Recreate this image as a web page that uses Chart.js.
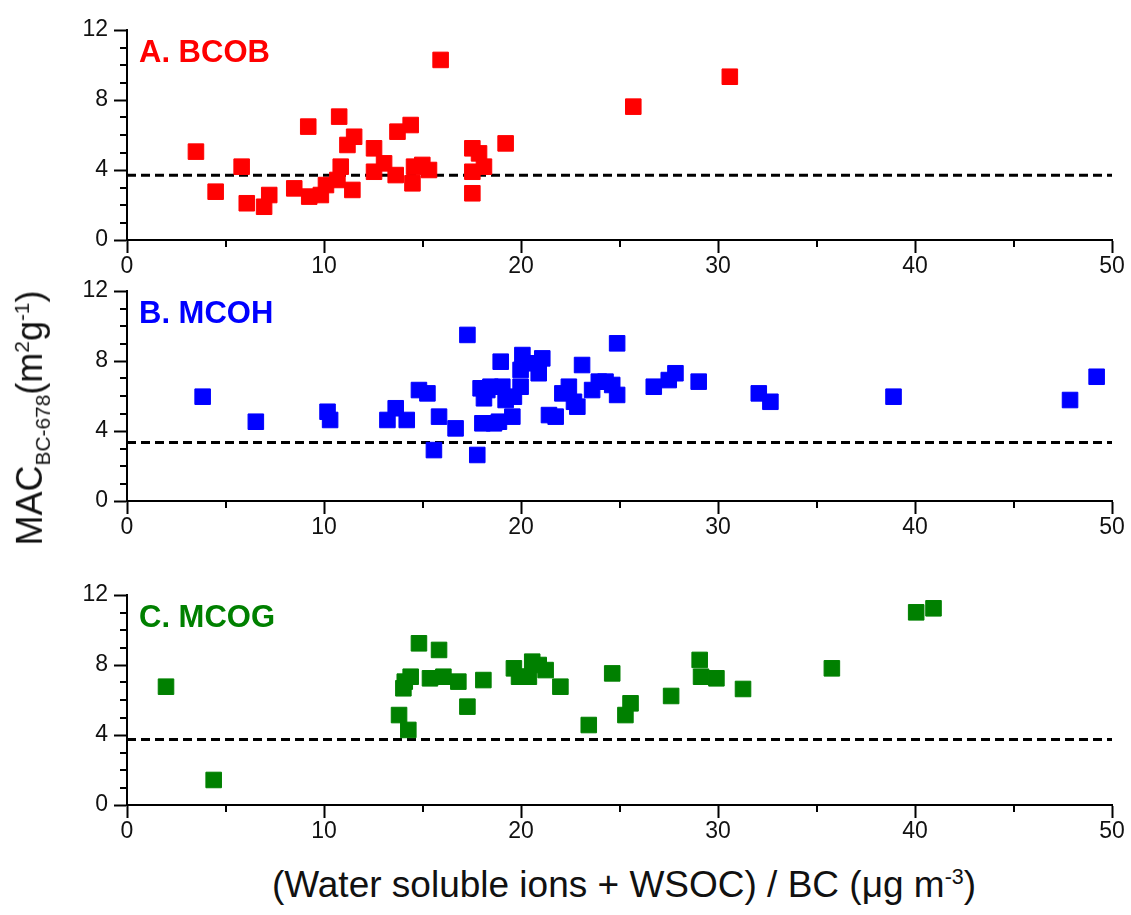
<!DOCTYPE html>
<html lang="en">
<head>
  <meta charset="UTF-8">
  <title>MAC vs soluble fraction</title>
  <script src="https://cdn.jsdelivr.net/npm/chart.js"></script>
  <style>
    body {
      margin: 0;
      background: #fff;
      font-family: Arial, "Liberation Sans", sans-serif;
    }
    #page {
      position: relative;
      width: 1131px;
      height: 915px;
    }
    .panel {
      position: absolute;
      left: 0;
      width: 1131px;
      height: 280px;
    }
    #ytitle {
      position: absolute;
      left: 32px;
      top: 418px;
      transform: translate(-50%, -50%) rotate(-90deg);
      white-space: nowrap;
      font-size: 36px;
      color: #111;
    }
    #xtitle {
      position: absolute;
      left: 624px;
      top: 885px;
      transform: translate(-50%, -50%);
      white-space: nowrap;
      font-size: 37px;
      color: #111;
    }
    sub, sup { font-size: 58%; }
  </style>
</head>
<body>
  <div id="page">
    <div class="panel" style="top:0px"><canvas id="chartA"></canvas></div>
    <div class="panel" style="top:261px"><canvas id="chartB"></canvas></div>
    <div class="panel" style="top:565px"><canvas id="chartC"></canvas></div>
    <div id="ytitle">MAC<sub>BC-678</sub>(m<sup>2</sup>g<sup>-1</sup>)</div>
    <div id="xtitle">(Water soluble ions + WSOC) / BC (&mu;g m<sup>-3</sup>)</div>
  </div>

  <script>
    // A. BCOB
    const bcobX = [3.5, 4.5, 5.82, 6.08, 6.96, 7.22, 8.49, 9.2, 9.25, 9.84, 10.1, 10.77, 10.85, 10.68, 11.19, 11.53, 11.44, 12.54,
                   12.54, 13.05, 13.73, 13.64, 14.4, 14.49, 14.57, 14.99, 15.33, 15.92, 17.53, 17.87, 18.12, 17.53, 17.53, 19.22, 25.7, 30.6];
    const bcobY = [5.05, 2.76, 4.19, 2.1, 1.9, 2.57, 2.95, 6.48, 2.48, 2.57, 3.14, 7.05, 4.19, 3.43, 5.43, 5.9, 2.86, 5.24,
                   3.9, 4.38, 6.19, 3.71, 6.57, 3.24, 4.19, 4.29, 4.0, 10.29, 5.24, 4.95, 4.19, 3.9, 2.67, 5.52, 7.62, 9.33];

    // B. MCOH
    const mcohX = [3.84, 6.54, 10.18, 10.31, 13.22, 13.64, 14.2, 14.82, 15.25, 15.84, 15.58, 16.68, 17.28, 17.78, 17.95, 18.12, 18.04, 18.63,
                   18.45, 18.97, 20.07, 21.08, 19.98, 18.29, 19.05, 19.22, 19.64, 19.56, 18.88, 19.98, 20.9, 20.49, 21.42, 21.76, 22.1, 22.43,
                   22.69, 22.86, 23.1, 23.61, 23.95, 24.29, 24.63, 24.88, 24.88, 26.74, 27.5, 27.84, 29.02, 32.07, 32.66, 38.91, 47.87, 49.22];
    const mcohY = [5.96, 4.53, 5.1, 4.63, 4.63, 5.3, 4.63, 6.34, 6.15, 4.82, 2.91, 4.15, 9.49, 2.63, 6.44, 5.87, 4.44, 4.44,
                   6.53, 7.96, 8.34, 8.15, 6.53, 6.34, 6.53, 5.77, 5.96, 4.82, 4.53, 7.49, 7.3, 7.87, 4.91, 4.82, 6.15, 6.53,
                   5.67, 5.39, 7.77, 6.34, 6.82, 6.82, 6.63, 6.06, 9.01, 6.53, 6.91, 7.3, 6.82, 6.15, 5.67, 5.96, 5.77, 7.1];

    // C. MCOG
    const mcogX = [1.98, 4.4, 13.81, 14.03, 14.1, 14.28, 14.4, 14.82, 15.38, 15.84, 16.06, 16.82, 17.28, 18.09, 19.64, 19.9, 20.4,
                   20.57, 20.9, 21.25, 22.0, 23.44, 24.63, 25.3, 25.56, 27.62, 29.07, 29.14, 29.92, 31.27, 35.78, 40.06, 40.94];
    const mcogY = [6.76, 1.43, 5.14, 6.67, 7.05, 4.29, 7.33, 9.24, 7.24, 8.86, 7.33, 7.05, 5.62, 7.14, 7.81, 7.33, 7.33,
                   8.19, 8.0, 7.71, 6.76, 4.57, 7.52, 5.14, 5.81, 6.23, 8.29, 7.33, 7.24, 6.63, 7.81, 11.01, 11.24];

    // dashed reference levels
    const refLevels = [3.7, 3.35, 3.75];
    const panelNames = ['A. BCOB', 'B. MCOH', 'C. MCOG'];
    const panelColors = ['#ff0000', '#0000ff', '#008000'];
    const xTicks = [0, 10, 20, 30, 40, 50];
    const yTicks = [0, 4, 8, 12];

    // minor ticks + panel label
    const extras = {
      id: 'extras',
      afterDraw(chart, args, opts) {
        const ctx = chart.ctx;
        const xs = chart.scales.x, ys = chart.scales.y;
        const area = chart.chartArea;
        ctx.save();
        ctx.strokeStyle = '#000';
        ctx.lineWidth = 2;
        ctx.beginPath();
        for (let v = 5; v < 50; v += 10) {
          const px = Math.round(xs.getPixelForValue(v));
          ctx.moveTo(px, area.bottom);
          ctx.lineTo(px, area.bottom + 7);
        }
        for (let v = 1; v < 12; v++) {
          if (v % 4 === 0) continue;
          const py = Math.round(ys.getPixelForValue(v));
          ctx.moveTo(area.left, py);
          ctx.lineTo(area.left - 7, py);
        }
        ctx.stroke();
        ctx.fillStyle = opts.color;
        ctx.font = 'bold 31px Arial, "Liberation Sans", sans-serif';
        ctx.textBaseline = 'alphabetic';
        ctx.fillText(opts.text, area.left + 12, area.top + 32);
        ctx.restore();
      }
    };

    function makePanel(id, xs, ys, idx) {
      const color = panelColors[idx];
      const points = xs.map((x, i) => ({x: x, y: ys[i]}));
      const ref = refLevels[idx];
      return new Chart(document.getElementById(id), {
        type: 'scatter',
        data: {
          datasets: [
            {
              data: points,
              pointStyle: 'rect',
              pointRadius: 11,
              pointHoverRadius: 11,
              backgroundColor: color,
              borderColor: color,
              borderWidth: 1
            },
            {
              type: 'line',
              data: [{x: xTicks[0], y: ref}, {x: xTicks[xTicks.length - 1], y: ref}],
              borderColor: '#000',
              borderWidth: 3,
              borderDash: [9, 5],
              pointRadius: 0,
              fill: false
            }
          ]
        },
        plugins: [extras],
        options: {
          responsive: true,
          maintainAspectRatio: false,
          animation: false,
          events: [],
          layout: { padding: { top: 30, right: 19, left: 0, bottom: 0 } },
          plugins: {
            legend: { display: false },
            tooltip: { enabled: false },
            extras: { text: panelNames[idx], color: color }
          },
          scales: {
            x: {
              type: 'linear',
              min: xTicks[0],
              max: xTicks[xTicks.length - 1],
              afterBuildTicks: s => { s.ticks = xTicks.map(v => ({value: v})); },
              ticks: {
                font: { family: 'Arial, "Liberation Sans", sans-serif', size: 23 },
                color: '#111',
                padding: 0,
                maxRotation: 0
              },
              grid: { drawOnChartArea: false, tickLength: 13, tickWidth: 2, tickColor: '#000' },
              border: { display: true, color: '#000', width: 2 },
              afterFit: s => { s.height = 40; }
            },
            y: {
              min: yTicks[0],
              max: yTicks[yTicks.length - 1],
              afterBuildTicks: s => { s.ticks = yTicks.map(v => ({value: v})); },
              ticks: {
                font: { family: 'Arial, "Liberation Sans", sans-serif', size: 23 },
                color: '#111',
                padding: 6
              },
              grid: { drawOnChartArea: false, tickLength: 13, tickWidth: 2, tickColor: '#000' },
              border: { display: true, color: '#000', width: 2 },
              afterFit: s => { s.width = 127; }
            }
          }
        }
      });
    }

    makePanel('chartA', bcobX, bcobY, 0);
    makePanel('chartB', mcohX, mcohY, 1);
    makePanel('chartC', mcogX, mcogY, 2);
  </script>
</body>
</html>
